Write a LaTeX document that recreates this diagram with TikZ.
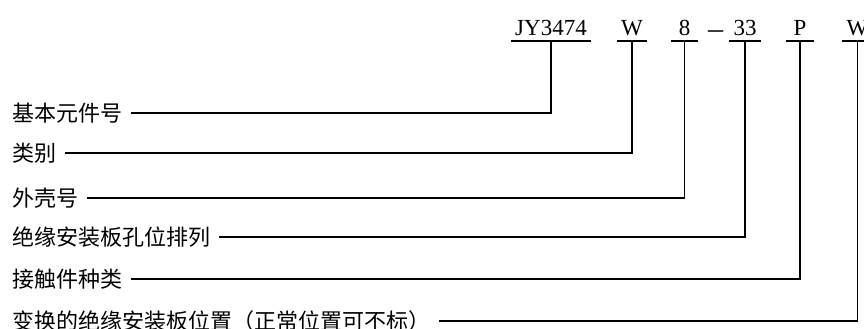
\documentclass[tikz,border=0pt]{standalone}
\usepackage{fontspec}
\setmainfont{Liberation Serif}
\newfontfamily\cjk{Noto Sans CJK SC}
\usetikzlibrary{positioning}

\tikzset{
  rule/.style={line width=1.6pt},
  code/.style={font=\fontsize{23}{26}\selectfont, inner xsep=4pt, inner ysep=0pt,
    text depth=5.5pt, minimum width=27pt, anchor=base},
  part/.style={font=\cjk\fontsize{22}{26}\selectfont, inner sep=0pt, anchor=west}
}

\begin{document}
\begin{tikzpicture}[x=1pt,y=-1pt]
\useasboundingbox (0,0) rectangle (864,329);

% the code, underlined piece by piece
\foreach \i / \x / \code in {1/551/JY3474,2/632/W,3/684.5/8,4/745/33,5/800/P,6/857.5/W}
{
  \node [code] (c\i) at (\x,35.5) {\code};
  \draw [rule] (c\i.south west) -- (c\i.south east);
}
\node [code, font=\fontsize{30}{30}\selectfont, text depth=0pt, minimum width=0pt] (dash) at (715.5,39) {–};

% what each piece means
\def\parts{1/112.7/{基本元件号},2/152.7/{类别},3/197.7/{外壳号},4/237/{绝缘安装板孔位排列},5/279/{接触件种类},6/321/{变换的绝缘安装板位置（正常位置可不标）}}
\foreach \i / \y / \element in \parts
  \node [part] (p\i) at (12,\y) {\element};

\foreach \i in {1,...,6}
  \draw [rule, shorten <=9pt] (p\i.east) -| (c\i.south);

\end{tikzpicture}
\end{document}
